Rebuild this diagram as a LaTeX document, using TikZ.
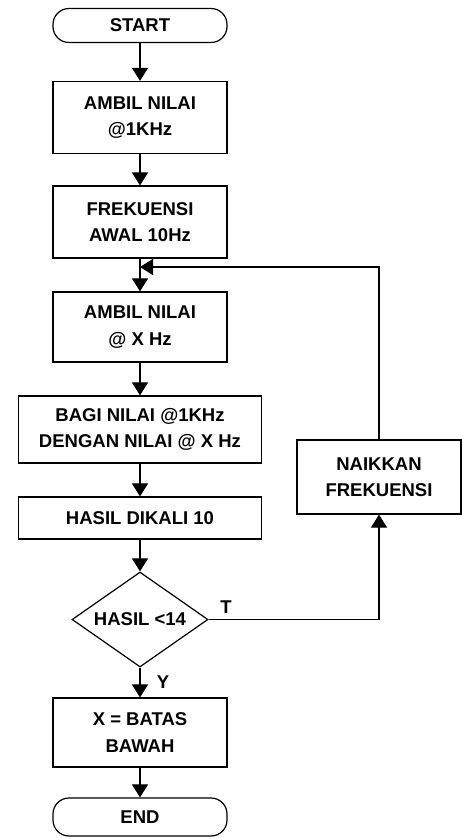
\documentclass[tikz,border=0pt]{standalone}
\usepackage{fontspec}
\setmainfont{Liberation Sans}
\usetikzlibrary{arrows.meta,shapes.geometric}
\tikzset{
  proses/.style={draw, line width=1.2pt, minimum width=174pt, minimum height=72pt, inner sep=0pt, align=center},
  terminal/.style={draw, line width=1.2pt, rounded corners=16pt, minimum width=174pt, minimum height=34pt, inner sep=0pt},
  keputusan/.style={draw, diamond, aspect=1.43, line width=1.2pt, minimum width=136pt, minimum height=95pt, inner sep=0pt},
  panah/.style={line width=1.1pt, -{Triangle[width=16pt,length=13pt]}},
}
\begin{document}
\begin{tikzpicture}[x=1pt, y=-1pt, font=\fontsize{18.5}{26.5}\selectfont\bfseries]
			%%%%% START %%%%%
			\useasboundingbox (0,0) rectangle (462,838);
			
			\node[terminal] (mulai) at (140,25.5) {START};
			\node[proses] (ambil1) at (140,117.5) {AMBIL NILAI\\@1KHz};
			\node[proses] (awal) at (140,222) {FREKUENSI\\AWAL 10Hz};
			\node[proses, minimum height=70pt] (ambilx) at (140,327) {AMBIL NILAI\\@ X Hz};
			\node[proses, minimum width=243pt, minimum height=67pt] (bagi) at (140,429.5) {BAGI NILAI @1KHz\\DENGAN NILAI @ X Hz};
			\node[proses, minimum width=243pt, minimum height=42pt] (kali) at (140,518) {HASIL DIKALI 10};
			\node[keputusan] (cek) at (140,619.5) {HASIL <14};
			\node[proses, minimum height=69pt] (batas) at (140,732.5) {X = BATAS\\BAWAH};
			\node[terminal, minimum height=38pt] (selesai) at (140,817) {END};
			
			\node[proses, minimum width=164pt, minimum height=74pt] (naik) at (379,477) {NAIKKAN\\FREKUENSI};
			\coordinate (gabung) at (140,267);
			
			\node (lblT) at (226,607) {T};
			\node (lblY) at (163,682) {Y};
			
			\draw[panah] (mulai) -- (ambil1);
			\draw[panah] (ambil1) -- (awal);
			\draw[panah] (awal) -- (ambilx);
			\draw[panah] (ambilx) -- (bagi);
			\draw[panah] (bagi) -- (kali);
			\draw[panah] (kali) -- (cek);
			\draw[panah] (cek) -- (batas);
			\draw[panah] (batas) -- (selesai);
			
			\draw[panah] (cek.east) -| (naik.south);
			\draw[panah] (naik.north) |- (gabung);
			%%%%% END %%%%%
\end{tikzpicture}
\end{document}
